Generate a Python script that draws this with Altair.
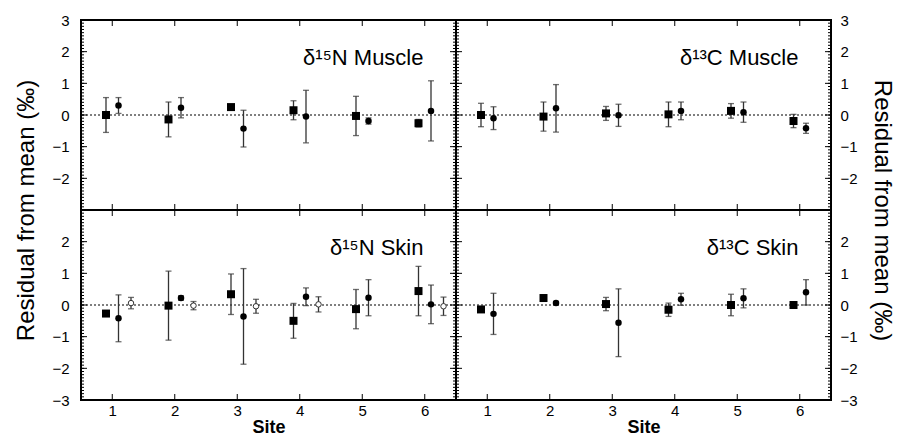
import altair as alt
import pandas as pd

FONT = "Liberation Sans"
W, H = 375, 190

sites = [1, 2, 3, 4, 5, 6]
tick_major = [-3, -2, -1, 0, 1, 2, 3]
tick_minor = [round(-3 + 0.1 * i, 1) for i in range(61)]

# delta15N muscle
n_mus_sq = [0.00, -0.14, 0.25, 0.15, -0.03, -0.26]
n_mus_sq_err = [0.55, 0.55, 0.07, 0.30, 0.62, 0.12]
n_mus_ci = [0.30, 0.23, -0.43, -0.05, -0.19, 0.13]
n_mus_ci_err = [0.25, 0.32, 0.58, 0.83, 0.10, 0.95]

# delta13C muscle
c_mus_sq = [0.00, -0.05, 0.05, 0.02, 0.13, -0.19]
c_mus_sq_err = [0.37, 0.46, 0.22, 0.39, 0.23, 0.21]
c_mus_ci = [-0.10, 0.21, -0.01, 0.13, 0.09, -0.42]
c_mus_ci_err = [0.36, 0.75, 0.35, 0.28, 0.32, 0.16]

# delta15N skin (third series has no value at site 5)
n_skin_sq = [-0.27, -0.02, 0.34, -0.50, -0.13, 0.44]
n_skin_sq_err = [0.05, 1.09, 0.64, 0.55, 0.62, 0.78]
n_skin_ci = [-0.42, 0.22, -0.36, 0.26, 0.23, 0.02]
n_skin_ci_err = [0.74, 0.07, 1.51, 0.28, 0.57, 0.61]
n_skin_op = [0.06, -0.02, -0.04, 0.02, None, -0.04]
n_skin_op_err = [0.18, 0.13, 0.22, 0.24, None, 0.29]

# delta13C skin
c_skin_sq = [-0.14, 0.22, 0.03, -0.15, 0.00, 0.00]
c_skin_sq_err = [0.05, 0.10, 0.21, 0.21, 0.34, 0.03]
c_skin_ci = [-0.28, 0.06, -0.56, 0.18, 0.21, 0.40]
c_skin_ci_err = [0.65, 0.05, 1.07, 0.19, 0.30, 0.40]

offsets = {"sq": -0.1, "ci": 0.1, "op": 0.3}


def frame(series):
    rows = []
    for kind, vals, errs in series:
        for s, v, e in zip(sites, vals, errs):
            if v is None:
                continue
            rows.append({"x": s + offsets[kind], "kind": kind, "v": v,
                         "lo": v - e, "hi": v + e})
    return pd.DataFrame(rows)


xscale = alt.Scale(domain=[0.5, 6.5], nice=False, zero=False)
yscale = alt.Scale(domain=[-3, 3], nice=False, zero=False)


def panel(df, label, left, top):
    vals = [-2, -1, 0, 1, 2, 3] if top else [-3, -2, -1, 0, 1, 2]
    common = dict(values=vals, tickSize=0, domain=False, grid=False, labelFont=FONT,
                  labelFontSize=15, labelColor="black", labelPadding=12 if left else 9)
    if top:
        common.update(title="Residual from mean (‰)", titleFont=FONT, titleFontSize=24,
                      titleFontWeight="normal", titleColor="black", titleY=H,
                      titlePadding=13 if left else 12, titleAngle=270 if left else 90)
    else:
        common.update(title="")
    yaxis = alt.Axis(orient="left" if left else "right", **common)
    if top:
        xaxis = None
    else:
        xaxis = alt.Axis(values=sites, tickSize=0, domain=False, grid=False, labelFont=FONT,
                         labelFontSize=15, labelColor="black", labelPadding=3, title="Site",
                         titleFont=FONT, titleFontSize=18, titleFontWeight="bold",
                         titleColor="black", titlePadding=0)

    def X(f):
        return alt.X(f, scale=xscale, axis=xaxis)

    def Y(f):
        return alt.Y(f, scale=yscale, axis=yaxis)

    base = alt.Chart(df)
    zero = alt.Chart(pd.DataFrame({"z": [0]})).mark_rule(
        color="black", strokeDash=[2, 2], strokeWidth=1.2
    ).encode(y=Y("z:Q"))

    bars = base.mark_rule(color="#333333", strokeWidth=1.3).encode(
        x=X("x:Q"), y=Y("lo:Q"), y2="hi:Q")
    cap_lo = base.mark_tick(orient="horizontal", size=6, thickness=1.3, color="#333333").encode(
        x=X("x:Q"), y=Y("lo:Q"))
    cap_hi = base.mark_tick(orient="horizontal", size=6, thickness=1.3, color="#333333").encode(
        x=X("x:Q"), y=Y("hi:Q"))
    sq = base.transform_filter(alt.datum.kind == "sq").mark_point(
        shape="square", filled=True, color="black", size=64, opacity=1
    ).encode(x=X("x:Q"), y=Y("v:Q"))
    ci = base.transform_filter(alt.datum.kind == "ci").mark_point(
        shape="circle", filled=True, color="black", size=42, opacity=1
    ).encode(x=X("x:Q"), y=Y("v:Q"))
    op = base.transform_filter(alt.datum.kind == "op").mark_point(
        shape="circle", filled=True, fill="white", stroke="#333333", strokeWidth=1, size=30, opacity=1
    ).encode(x=X("x:Q"), y=Y("v:Q"))

    text = alt.Chart(pd.DataFrame({"x": [5.98], "y": [1.8], "t": [label]})).mark_text(
        align="right", baseline="middle", font=FONT, fontSize=22, color="black"
    ).encode(x=X("x:Q"), y=Y("y:Q"), text="t:N")

    ymaj = pd.DataFrame({"t": tick_major})
    ymin = pd.DataFrame({"t": tick_minor})
    xt = pd.DataFrame({"s": sites})
    ticks = []
    for d, L in ((ymaj, 6), (ymin, 3)):
        ticks.append(alt.Chart(d).mark_rule(color="black", strokeWidth=1).encode(
            y=Y("t:Q"), x=alt.value(0), x2=alt.value(L)))
        ticks.append(alt.Chart(d).mark_rule(color="black", strokeWidth=1).encode(
            y=Y("t:Q"), x=alt.value(W), x2=alt.value(W - L)))
    ticks.append(alt.Chart(xt).mark_rule(color="black", strokeWidth=1).encode(
        x=X("s:Q"), y=alt.value(0), y2=alt.value(6)))
    ticks.append(alt.Chart(xt).mark_rule(color="black", strokeWidth=1).encode(
        x=X("s:Q"), y=alt.value(H), y2=alt.value(H - 6)))

    return alt.layer(zero, *ticks, bars, cap_lo, cap_hi, op, sq, ci, text).properties(width=W, height=H)


p1 = panel(frame([("sq", n_mus_sq, n_mus_sq_err), ("ci", n_mus_ci, n_mus_ci_err)]),
           "δ¹⁵N Muscle", True, True)
p2 = panel(frame([("sq", c_mus_sq, c_mus_sq_err), ("ci", c_mus_ci, c_mus_ci_err)]),
           "δ¹³C Muscle", False, True)
p3 = panel(frame([("sq", n_skin_sq, n_skin_sq_err), ("ci", n_skin_ci, n_skin_ci_err),
                  ("op", n_skin_op, n_skin_op_err)]),
           "δ¹⁵N Skin", True, False)
p4 = panel(frame([("sq", c_skin_sq, c_skin_sq_err), ("ci", c_skin_ci, c_skin_ci_err)]),
           "δ¹³C Skin", False, False)

chart = alt.concat(p1, p2, p3, p4, columns=2, spacing=0, bounds="flush").properties(
    padding={"left": 5, "top": 4, "right": 2, "bottom": 0},
    background="white",
).configure_view(stroke="black", strokeWidth=2)

chart.save("out.html", embed_options={"renderer": "svg", "actions": False})
